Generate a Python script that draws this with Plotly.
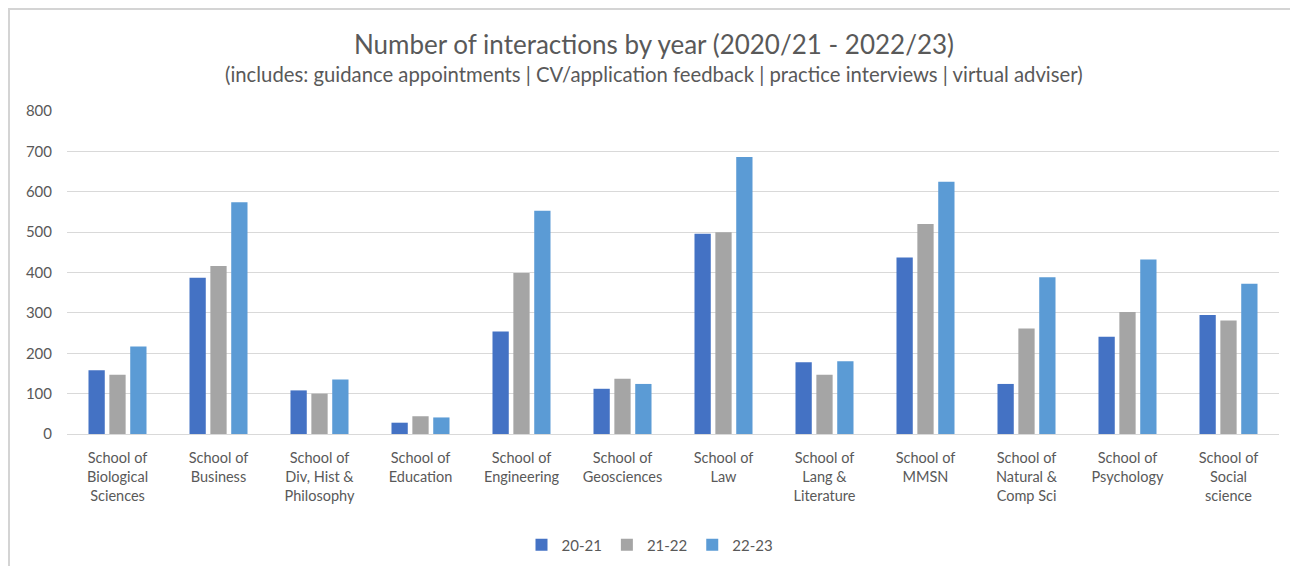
import plotly.graph_objects as go

categories = [
    "School of<br>Biological<br>Sciences",
    "School of<br>Business",
    "School of<br>Div, Hist &<br>Philosophy",
    "School of<br>Education",
    "School of<br>Engineering",
    "School of<br>Geosciences",
    "School of<br>Law",
    "School of<br>Lang &<br>Literature",
    "School of<br>MMSN",
    "School of<br>Natural &<br>Comp Sci",
    "School of<br>Psychology",
    "School of<br>Social<br>science",
]
y2021 = [158, 387, 108, 28, 254, 112, 496, 178, 437, 124, 241, 295]
y2122 = [147, 416, 100, 44, 399, 137, 500, 147, 520, 261, 302, 281]
y2223 = [217, 574, 135, 41, 553, 124, 686, 180, 625, 388, 432, 372]
series_names = ["20-21", "21-22", "22-23"]
colors = ["#4472C4", "#A5A5A5", "#5B9BD5"]

FONT = "Lato, Calibri, sans-serif"
TXT = "#595959"

fig = go.Figure()
for name, vals, c in zip(series_names, [y2021, y2122, y2223], colors):
    fig.add_trace(go.Bar(x=categories, y=vals, name=name, marker=dict(color=c, line=dict(width=0))))

W, H = 1290, 566
L, R, T, B = 67, 11, 111, 132
pw = W - L - R
ph = H - T - B

def px_x(p):
    return (p - L) / pw

def px_y(p):
    return (H - B - p) / ph

fig.update_layout(
    width=W, height=H,
    margin=dict(l=L, r=R, t=T, b=B, autoexpand=False),
    paper_bgcolor="white", plot_bgcolor="white",
    barmode="group", bargap=0.38, bargroupgap=0.22,
    font=dict(family=FONT, size=14, color=TXT),
    showlegend=True,
    legend=dict(orientation="h", x=px_x(650), xanchor="center", y=px_y(545), yanchor="middle",
                font=dict(size=15, color=TXT), itemwidth=30, traceorder="normal"),
    xaxis=dict(showgrid=False, showline=True, linecolor="#D9D9D9", linewidth=1,
               ticks="", tickfont=dict(size=14.5, color=TXT), fixedrange=True,
               automargin=False, ticklabelstandoff=11),
    yaxis=dict(range=[0, 800], dtick=100, showgrid=True, gridcolor="#D9D9D9", gridwidth=1,
               zeroline=False, showline=False, ticks="", ticklen=0, automargin=False,
               ticklabelstandoff=14,
               tickfont=dict(size=15, color=TXT), fixedrange=True),
    annotations=[
        dict(text="Number of interactions by year (2020/21 - 2022/23)", xref="paper", yref="paper",
             x=px_x(654), y=px_y(44), xanchor="center", yanchor="middle", showarrow=False,
             font=dict(size=26, color=TXT, family=FONT)),
        dict(text="(includes: guidance appointments | CV/application feedback | practice interviews | virtual adviser)",
             xref="paper", yref="paper",
             x=px_x(654), y=px_y(74), xanchor="center", yanchor="middle", showarrow=False,
             font=dict(size=20.3, color=TXT, family=FONT)),
    ],
    shapes=[
        dict(type="line", xref="paper", yref="paper", x0=px_x(8), x1=px_x(1292), y0=px_y(9), y1=px_y(9),
             line=dict(color="#D4D4D4", width=2)),
        dict(type="line", xref="paper", yref="paper", x0=px_x(9), x1=px_x(9), y0=px_y(8), y1=px_y(568),
             line=dict(color="#D4D4D4", width=2)),
    ],
)

fig.write_html("out.html")
